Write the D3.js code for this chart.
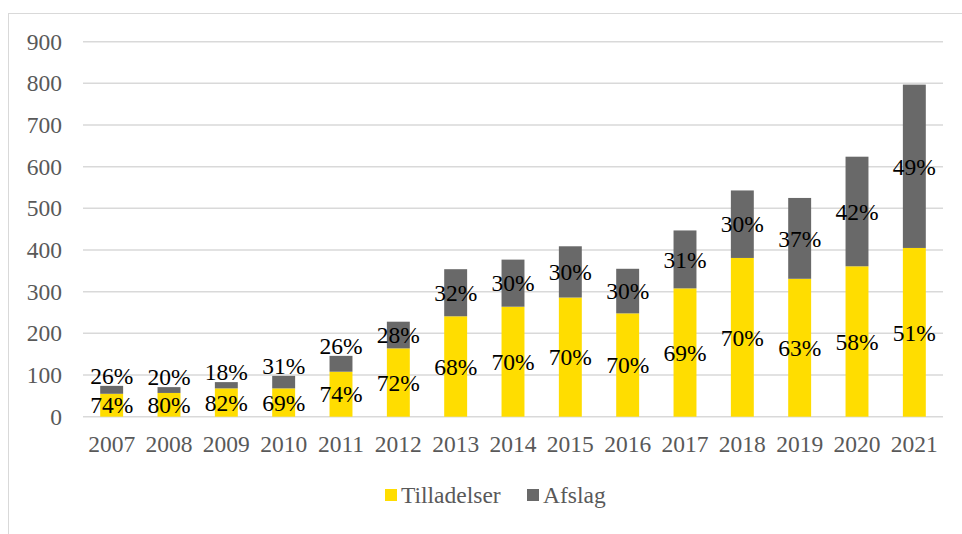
<!DOCTYPE html>
<html lang="da">
<head>
  <meta charset="UTF-8" />
  <title>Tilladelser og afslag</title>
  <style>
    body { margin: 0; background: #fff; }
    svg text { font-family: "Liberation Serif", "Times New Roman", serif !important; }
  </style>
  <script src="https://d3js.org/d3.v7.min.js"></script>
</head>
<body>
  <script>
    const years = ["2007", "2008", "2009", "2010", "2011", "2012", "2013", "2014",
                   "2015", "2016", "2017", "2018", "2019", "2020", "2021"];
    const tilladelser = [55, 57, 68, 68, 108, 164, 241, 264, 286, 248, 308, 381, 331, 361, 405];
    const afslag      = [19, 14, 15, 30, 38, 64, 113, 113, 123, 107, 139, 162, 194, 263, 392];
    const pctTill     = ["74%", "80%", "82%", "69%", "74%", "72%", "68%", "70%",
                         "70%", "70%", "69%", "70%", "63%", "58%", "51%"];
    const pctAfslag   = ["26%", "20%", "18%", "31%", "26%", "28%", "32%", "30%",
                         "30%", "30%", "31%", "30%", "37%", "42%", "49%"];
    const yTicks = [0, 100, 200, 300, 400, 500, 600, 700, 800, 900];
    const seriesNames = ["Tilladelser", "Afslag"];

    const W = 962, H = 534;
    const yellow = "#FFDD00", gray = "#696969";
    const serif = "'Liberation Serif', 'Times New Roman', serif";

    const svg = d3.select("body").append("svg")
      .attr("width", W)
      .attr("height", H)
      .style("font-family", serif);

    // outer frame (only partly visible)
    svg.append("rect")
      .attr("x", 8.5).attr("y", 13.5)
      .attr("width", 970).attr("height", 540)
      .attr("fill", "none")
      .attr("stroke", "#D9D9D9")
      .attr("stroke-width", 1);

    const x = d3.scaleBand()
      .domain(years)
      .range([83, 943])
      .paddingInner(0.6)
      .paddingOuter(0.3);

    const y = d3.scaleLinear()
      .domain([0, 900])
      .range([416.7, 41.7]);

    // gridlines
    svg.append("g")
      .selectAll("line")
      .data(yTicks)
      .enter()
      .append("line")
      .attr("x1", 83).attr("x2", 943)
      .attr("y1", d => y(d)).attr("y2", d => y(d))
      .attr("stroke", "#D9D9D9")
      .attr("stroke-width", 1.5);

    // y axis labels
    const yAxis = d3.axisLeft(y).tickValues(yTicks).tickSize(0).tickPadding(0);
    svg.append("g")
      .attr("transform", "translate(62,0)")
      .call(yAxis)
      .attr("font-family", null)
      .call(g => g.select(".domain").remove())
      .selectAll("text")
      .attr("font-size", 23.5)
      .attr("fill", "#595959")
      .style("font-family", serif);

    // x axis labels
    const xAxis = d3.axisBottom(x).tickSize(0).tickPadding(0);
    svg.append("g")
      .attr("transform", "translate(0,435)")
      .call(xAxis)
      .attr("font-family", null)
      .call(g => g.select(".domain").remove())
      .selectAll("text")
      .attr("font-size", 23.5)
      .attr("fill", "#595959")
      .style("font-family", serif);

    const rows = years.map((yr, i) => ({
      year: yr,
      t: tilladelser[i],
      a: afslag[i],
      pt: pctTill[i],
      pa: pctAfslag[i]
    }));

    // yellow segment
    svg.append("g").selectAll("rect")
      .data(rows).enter().append("rect")
      .attr("x", d => x(d.year))
      .attr("width", x.bandwidth())
      .attr("y", d => y(d.t))
      .attr("height", d => y(0) - y(d.t))
      .attr("fill", yellow);

    // gray segment
    svg.append("g").selectAll("rect")
      .data(rows).enter().append("rect")
      .attr("x", d => x(d.year))
      .attr("width", x.bandwidth())
      .attr("y", d => y(d.t + d.a))
      .attr("height", d => y(d.t) - y(d.t + d.a))
      .attr("fill", gray);

    // labels
    const lbl = svg.append("g")
      .attr("text-anchor", "middle");

    lbl.selectAll(".lt")
      .data(rows).enter().append("text")
      .attr("class", "lt")
      .attr("x", d => x(d.year) + x.bandwidth() / 2)
      .attr("y", d => (y(0) + y(d.t)) / 2)
      .attr("dy", "0.35em")
      .attr("font-size", 23.5)
      .attr("fill", "#000")
      .style("font-family", serif)
      .text(d => d.pt);

    lbl.selectAll(".la")
      .data(rows).enter().append("text")
      .attr("class", "la")
      .attr("x", d => x(d.year) + x.bandwidth() / 2)
      .attr("y", d => {
        const top = y(d.t + d.a), bot = y(d.t);
        // small segment: push label above the bar
        return (bot - top) < 20 ? top - 10 : (top + bot) / 2;
      })
      .attr("dy", "0.35em")
      .attr("font-size", 23.5)
      .attr("fill", "#000")
      .style("font-family", serif)
      .text(d => d.pa);

    // legend
    const legend = svg.append("g").attr("transform", "translate(0,495)");
    const legX = [385, 527];
    const legC = [yellow, gray];
    seriesNames.forEach((name, i) => {
      legend.append("rect")
        .attr("x", legX[i]).attr("y", -6)
        .attr("width", 12).attr("height", 12)
        .attr("fill", legC[i]);
      legend.append("text")
        .attr("x", legX[i] + 16)
        .attr("y", 0)
        .attr("dy", "0.35em")
        .attr("font-size", 23.5)
        .attr("fill", "#595959")
        .style("font-family", serif)
        .text(name);
    });
  </script>
</body>
</html>
